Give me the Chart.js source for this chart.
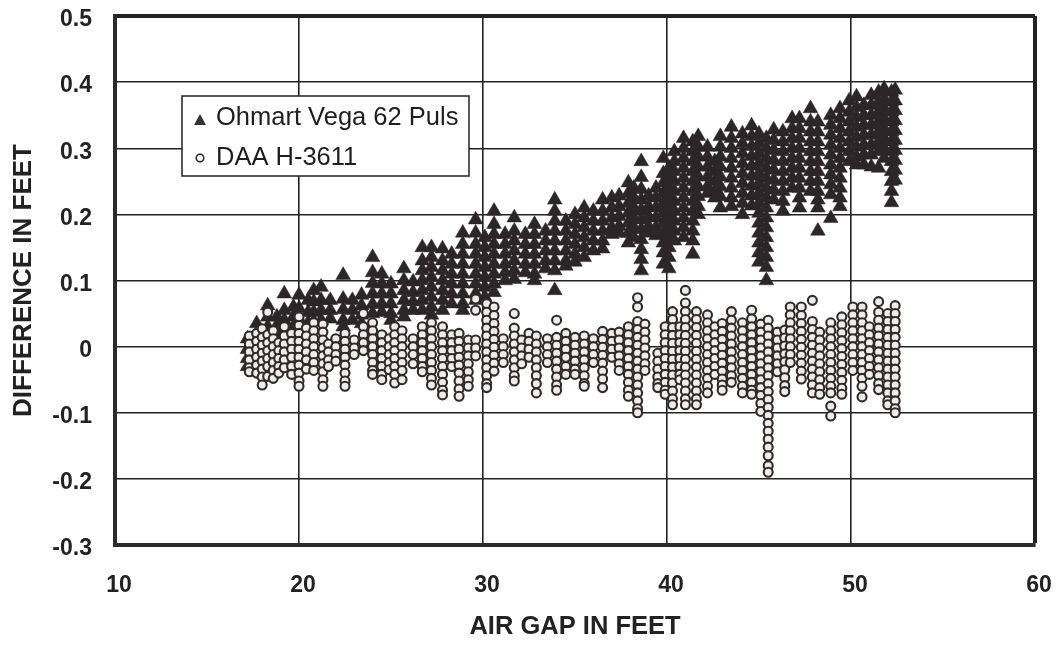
<!DOCTYPE html>
<html><head><meta charset="utf-8">
<style>html,body{margin:0;padding:0;background:#fff}#w{position:relative;width:1060px;height:645px}</style>
<script src="https://cdn.jsdelivr.net/npm/chart.js@4"></script>
</head><body><div id="w"><canvas id="c" width="1060" height="645"></canvas></div>
<script>
const xTicks=[10,20,30,40,50,60];
const yTicks=[-0.3,-0.2,-0.1,0,0.1,0.2,0.3,0.4,0.5];
const seriesNames=["Ohmart Vega 62 Puls","DAA H-3611"];
const ohmartX=[17.2,17.7,18.3,18.8,19.2,19.7,20,20.5,20.8,21.2,21.7,22.4,22.9,23.4,24,24.5,25,25.7,26.2,26.7,27.2,27.8,28.3,28.9,29.6,30.1,30.6,31.2,31.7,32.3,32.8,33.4,33.9,34.5,35,35.5,36,36.5,37,37.4,37.9,38.2,38.6,39,39.4,39.8,40.1,40.4,40.9,41.4,41.7,42.2,42.6,42.9,43.5,44.1,44.6,45,45.4,45.8,46.3,46.8,47.2,47.8,48.2,48.9,49.4,49.9,50.3,50.7,51.1,51.5,51.8,52.2,52.4];
const ohmartY=[
[.012,-.004,-.018,-.03],[.035,.02,.005,-.01,-.025],[.062,.045,.03,.015,.002],[.045,.032,.018,.006],[.08,.055,.04,.028],[.06,.045,.03],[.078,.058,.042,.028],[.07,.052,.036],[.085,.068,.052,.038],[.09,.07,.055,.04],[.07,.055,.042],[.108,.072,.056,.04,.03],[.07,.055,.04],[.078,.062,.048,.035],[.135,.112,.096,.08,.064,.05],[.11,.095,.08,.065,.052],[.095,.08,.065,.05,.04],[.118,.1,.085,.07,.055,.045],[.098,.082,.068,.055],[.15,.13,.115,.1,.085,.07,.055],[.15,.135,.12,.105,.09,.075,.06,.048],[.148,.13,.115,.1,.085,.07,.055],[.14,.125,.11,.095,.08,.065],[.172,.155,.14,.125,.11,.095,.08,.065,.055],[.192,.172,.155,.14,.125,.11,.095,.08,.07],[.165,.15,.135,.12,.105,.09,.075],[.205,.185,.17,.155,.14,.125,.11,.095,.082],[.17,.155,.14,.125,.112,.1],[.195,.175,.16,.145,.13,.115,.102],[.17,.155,.14,.125,.112],[.185,.17,.155,.14,.125,.11,.1],[.175,.16,.145,.13,.118],[.222,.205,.19,.175,.16,.145,.13,.115,.085],[.19,.175,.16,.145,.13,.122],[.2,.185,.17,.155,.14,.128],[.21,.195,.18,.165,.15,.135],[.205,.19,.175,.16,.145],[.222,.205,.19,.175,.16,.148],[.225,.21,.195,.18,.17],[.228,.212,.197,.182,.172],[.248,.232,.217,.202,.187,.172,.157],[.24,.225,.21,.195,.18,.165],[.28,.256,.238,.222,.207,.192,.177,.162,.147,.132,.115],[.228,.212,.197,.182,.172],[.24,.225,.21,.195,.18,.168],[.285,.262,.248,.232,.217,.202,.187,.172,.157,.142,.125],[.27,.255,.24,.225,.21,.195,.18,.165,.15,.135,.118],[.295,.28,.265,.25,.235,.22,.205,.19,.175,.16],[.315,.3,.285,.27,.255,.24,.225,.21,.195,.18,.165],[.31,.295,.28,.265,.25,.235,.22,.205,.19,.175,.16,.14],[.318,.302,.287,.272,.257,.242,.227,.212,.2],[.302,.287,.272,.257,.242,.232],[.28,.265,.25,.235,.225],[.318,.302,.287,.272,.257,.242,.227,.21],[.332,.315,.3,.285,.27,.255,.24,.225,.212],[.322,.307,.292,.277,.262,.247,.232,.217,.2],[.334,.318,.303,.288,.273,.258,.243,.228,.213],[.322,.307,.292,.277,.262,.247,.232,.217,.202,.187,.172,.157,.142,.128],[.315,.3,.285,.27,.255,.24,.225,.21,.195,.18,.165,.15,.135,.12,.1],[.328,.312,.297,.282,.267,.252,.237,.222],[.325,.31,.295,.28,.265,.25,.235,.22,.205],[.345,.33,.315,.3,.285,.27,.255,.24],[.345,.33,.315,.3,.285,.27,.255,.24,.225,.21],[.36,.34,.325,.31,.295,.28,.265,.25,.235],[.34,.325,.31,.295,.28,.265,.25,.235,.222,.21,.175],[.35,.335,.32,.305,.29,.275,.26,.245,.23,.194],[.36,.345,.33,.315,.3,.285,.27,.255,.24,.225,.212],[.372,.355,.34,.325,.31,.295,.28],[.378,.362,.347,.332,.317,.302,.287,.275],[.365,.35,.335,.32,.305,.29,.275],[.38,.365,.35,.335,.32,.305,.29,.272],[.385,.37,.355,.34,.325,.31,.295,.27],[.39,.375,.36,.345,.33,.315,.3,.285],[.385,.37,.355,.34,.325,.31,.295,.28,.265,.25,.235,.218],[.388,.372,.357,.342,.327,.312,.297,.282,.267,.252]
];
const daaX=[17.3,17.7,18,18.3,18.6,18.9,19.2,19.6,20,20.4,20.8,21.3,21.6,22,22.5,23,23.5,24,24.5,24.9,25.2,25.6,26.2,26.7,27.2,27.8,28.3,28.7,29.2,29.6,30.2,30.6,31.1,31.7,32.1,32.5,32.9,33.5,34,34.5,35,35.5,36,36.5,37,37.4,37.9,38.4,38.8,39.5,39.9,40.3,40.7,41,41.6,42.2,42.6,43,43.5,44.1,44.6,45.1,45.5,46,46.4,46.7,47.3,47.9,48.3,48.9,49.5,50.1,50.6,51,51.5,52,52.4];
const daaY=[
[.016,.004,-.008,-.02,-.032,-.038],[.02,.008,-.004,-.016,-.028,-.04],[.027,.014,.002,-.01,-.022,-.034,-.046,-.058],[.052,.018,.006,-.006,-.018,-.03,-.045],[.024,.012,0,-.012,-.024,-.036,-.048],[.006,-.006,-.018,-.03,-.04],[.03,.016,.004,-.008,-.02,-.032],[.02,.008,-.004,-.016,-.03,-.042],[.045,.032,.02,.008,-.004,-.016,-.028,-.04,-.052,-.06],[.028,.016,.004,-.008,-.02,-.034],[.036,.024,.012,0,-.012,-.024,-.036],[.034,.022,.01,-.002,-.014,-.026,-.038,-.05,-.06],[.004,-.008,-.02,-.03],[.012,0,-.012,-.022],[.02,.008,-.004,-.016,-.028,-.04,-.052,-.06],[.01,-.002,-.012],[.05,.03,.018,.006,-.006],[.036,.024,.012,0,-.012,-.024,-.036,-.042],[.018,.006,-.006,-.018,-.03,-.042,-.05],[.012,0,-.012,-.024,-.035],[.03,.018,.006,-.006,-.018,-.03,-.042,-.055],[.024,.012,0,-.012,-.024,-.036,-.05],[.012,0,-.012,-.026],[.03,.018,.006,-.006,-.018,-.03,-.038],[.036,.024,.012,0,-.012,-.024,-.036,-.048,-.058],[.03,.018,.006,-.006,-.018,-.03,-.042,-.054,-.066,-.073],[.018,.006,-.006,-.018,-.03],[.02,.008,-.004,-.016,-.028,-.04,-.052,-.064,-.075],[.01,-.002,-.014,-.026,-.038,-.05,-.06],[.072,.055,.01,-.002,-.014],[.065,.052,.04,.028,.016,.004,-.008,-.02,-.032,-.044,-.056,-.062],[.06,.047,.035,.023,.011,-.001,-.013,-.025,-.037],[.012,0,-.012,-.024],[.05,.028,.016,.004,-.008,-.02,-.032,-.044,-.052],[.01,-.002,-.014,-.026],[.02,.008,-.004,-.016],[.016,.004,-.008,-.02,-.032,-.044,-.056,-.07],[.012,0,-.012,-.024],[.04,.014,.002,-.01,-.022,-.034,-.046,-.058,-.066],[.02,.008,-.004,-.016,-.03,-.042],[.014,.002,-.01,-.022,-.034,-.042],[.016,.004,-.008,-.02,-.032,-.044,-.056,-.06],[.012,0,-.012,-.024],[.023,.011,-.001,-.013,-.025,-.037,-.049,-.062],[.02,.008,-.004,-.016],[.022,.01,-.002,-.014,-.026,-.036],[.03,.018,.006,-.006,-.018,-.03,-.042,-.054,-.066,-.075],[.06,.074,.038,.026,.014,.002,-.01,-.022,-.034,-.046,-.058,-.07,-.082,-.094,-.1],[.034,.022,.01,-.002,-.014,-.026,-.036],[-.01,-.022,-.034,-.046,-.056,-.062],[.03,.018,.006,-.006,-.018,-.03,-.042,-.054,-.066,-.072],[.053,.041,.029,.017,.005,-.007,-.019,-.031,-.043,-.055,-.067,-.079,-.088],[.03,.018,.006,-.006,-.018,-.03,-.042,-.05],[.085,.066,.053,.041,.029,.017,.005,-.007,-.019,-.031,-.043,-.055,-.067,-.079,-.088],[.053,.041,.029,.017,.005,-.007,-.019,-.031,-.043,-.055,-.067,-.079,-.088],[.048,.036,.024,.012,0,-.012,-.024,-.036,-.048,-.06,-.07],[.03,.018,.006,-.006,-.018,-.03,-.042],[.035,.023,.011,-.001,-.013,-.025,-.037,-.049,-.058,-.066],[.053,.04,.028,.016,.004,-.008,-.02,-.032,-.044,-.054],[.036,.024,.012,0,-.012,-.024,-.036,-.048,-.06,-.07],[.055,.042,.03,.018,.006,-.006,-.018,-.03,-.042,-.054,-.066,-.072],[.034,.022,.01,-.002,-.014,-.026,-.038,-.05,-.062,-.074,-.086,-.098],[.04,.028,.016,.004,-.008,-.02,-.032,-.044,-.056,-.068,-.08,-.092,-.104,-.116,-.128,-.14,-.152,-.165,-.18,-.19],[.022,.01,-.002,-.014,-.026,-.038],[.025,.013,.001,-.011,-.023,-.035,-.047,-.059,-.068],[.06,.048,.036,.024,.012,0,-.012,-.024],[.06,.047,.035,.023,.011,-.001,-.013,-.025,-.037,-.049],[.07,.038,.026,.014,.002,-.01,-.022,-.034,-.046,-.058,-.07],[.022,.01,-.002,-.014,-.026,-.038,-.05,-.062,-.072],[.036,.024,.012,0,-.012,-.024,-.036,-.048,-.06,-.07,-.09,-.105],[.045,.033,.021,.009,-.003,-.015,-.027,-.039,-.051,-.063,-.072],[.06,.048,.036,.024,.012,0,-.012,-.024,-.036],[.06,.048,.036,.024,.012,0,-.012,-.024,-.036,-.048,-.06,-.076],[.03,.018,.006,-.006,-.018,-.03,-.042],[.068,.052,.04,.028,.016,.004,-.008,-.02,-.032,-.044,-.056,-.065],[.05,.038,.026,.014,.002,-.01,-.022,-.034,-.046,-.058,-.07,-.082,-.088],[.062,.05,.038,.026,.014,.002,-.01,-.022,-.034,-.046,-.058,-.07,-.082,-.094,-.1]
];
const toPoints=(xs,ys)=>xs.flatMap((x,i)=>ys[i].map(y=>({x,y})));
const plotBox={left:115,top:16,right:1035,bottom:545};
const fixArea={
  id:'fixArea',
  afterLayout(chart){
    const {x,y}=chart.scales;
    x.left=plotBox.left;x.right=plotBox.right;x.width=plotBox.right-plotBox.left;x.top=plotBox.bottom;x.bottom=645;x.height=100;
    y.left=0;y.right=plotBox.left;y.width=plotBox.left;y.top=plotBox.top;y.bottom=plotBox.bottom;y.height=plotBox.bottom-plotBox.top;
    x.configure();y.configure();
    Object.assign(chart.chartArea,plotBox,{width:x.width,height:y.height});
  }
};
const legendBox={
  id:'legendBox',
  afterDraw(chart){
    const c=chart.ctx;c.save();
    c.fillStyle='#fff';c.strokeStyle='#222';c.lineWidth=1.5;
    c.fillRect(182,96,287,80);c.strokeRect(182,96,287,80);
    c.fillStyle='#333';c.beginPath();c.moveTo(200,114);c.lineTo(206,125);c.lineTo(194,125);c.closePath();c.fill();
    c.fillStyle='#fff';c.strokeStyle='#222';c.lineWidth=1.5;c.beginPath();c.arc(200,158,3.8,0,Math.PI*2);c.fill();c.stroke();
    c.fillStyle='#1e1e1e';c.font='25.5px "Liberation Sans"';c.textBaseline='middle';c.textAlign='left';
    c.fillText(seriesNames[0],216,118);c.fillText(seriesNames[1],216,158);
    c.restore();
  }
};
new Chart(document.getElementById('c'),{
  type:'scatter',
  data:{datasets:[
    {label:seriesNames[0],order:2,data:toPoints(ohmartX,ohmartY),pointStyle:'triangle',pointRadius:8.5,backgroundColor:'#2b2627',borderColor:'#2b2627',borderWidth:0.5},
    {label:seriesNames[1],order:1,data:toPoints(daaX,daaY),pointStyle:'circle',pointRadius:4.5,backgroundColor:'#eeede9',borderColor:'#2f2b2b',borderWidth:2.1}
  ]},
  options:{
    responsive:false,animation:false,
    plugins:{legend:{display:false},tooltip:{enabled:false}},
    scales:{
      x:{type:'linear',min:10,max:60,
        afterFit(s){s.height=100;},
        afterBuildTicks(s){s.ticks=xTicks.map(value=>({value}));},
        grid:{color:'#222',lineWidth:c=>c.tick&&c.tick.value===60?4:1.6,drawTicks:false},
        border:{color:'#2a2a2a',width:4},
        ticks:{color:'#222',font:{family:'Liberation Sans',weight:'bold',size:23},padding:27,maxRotation:0,labelOffset:4},
        title:{display:true,text:'AIR GAP IN FEET',color:'#222',font:{family:'Liberation Sans',weight:'bold',size:25.5},padding:{top:0,bottom:3}}
      },
      y:{type:'linear',min:-0.3,max:0.5,
        afterFit(s){s.width=115;},
        afterBuildTicks(s){s.ticks=yTicks.map(value=>({value}));},
        grid:{color:'#222',lineWidth:c=>c.tick&&c.tick.value===0.5?4:1.4,drawTicks:false},
        border:{color:'#2a2a2a',width:4},
        ticks:{color:'#222',font:{family:'Liberation Sans',weight:'bold',size:23},padding:23,labelOffset:4,callback:v=>String(Math.round(v*10)/10)},
        title:{display:true,text:'DIFFERENCE IN FEET',color:'#222',font:{family:'Liberation Sans',weight:'bold',size:26},padding:{top:8,bottom:0}}
      }
    }
  },
  plugins:[fixArea,legendBox]
});
</script></body></html>
